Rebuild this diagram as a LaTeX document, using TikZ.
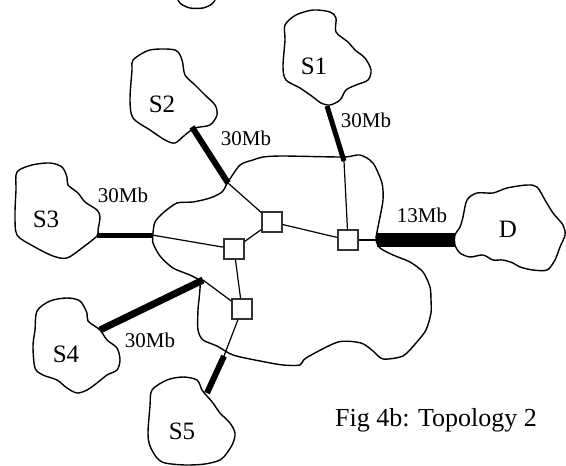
\documentclass[tikz,border=0pt]{standalone}
\usepackage{fontspec}
\setmainfont{Liberation Serif}
\begin{document}
\begin{tikzpicture}[x=1pt,y=-1pt,
  cloud/.style={draw, line width=1.4pt, line join=round},
  router/.style={draw=black!80, fill=white, rectangle, minimum size=20pt, inner sep=0pt, line width=1.4pt},
  thin/.style={line width=1.2pt},
  trunk/.style={line width=#1, line cap=butt},
  site/.style={font=\fontsize{25}{30}\selectfont},
  rate/.style={font=\fontsize{21}{25}\selectfont},
  caption/.style={font=\fontsize{26}{31}\selectfont}]
\useasboundingbox (0,0) rectangle (566,466);

% partial cloud at the top edge
\draw[cloud] plot[smooth, tension=0.5] coordinates {(178,0) (181,4) (190,8) (203,8) (212,4) (215,0)};

% core network
\draw[cloud] plot[smooth cycle, tension=0.45] coordinates {
  (228,182) (240,165) (253,160) (263,157) (283,156) (343,157) (360,155) (373,163)
  (382,183) (383,200) (380,217) (377,232) (376,240) (380,248) (393,255) (410,262)
  (423,272) (430,287) (431,300) (431,313) (426,330) (416,343) (403,356) (383,359)
  (373,351) (361,343) (338,342) (306,358) (300,365) (283,365) (260,361) (233,355)
  (217,346) (203,340) (198,330) (198,310) (200,283) (192,276) (173,268) (160,256)
  (153,243) (153,233) (155,222) (163,213) (177,203) (193,202) (210,198) (222,192)};

% site clouds
\draw[cloud] plot[smooth cycle, tension=0.5] coordinates {
  (285,25) (296,15) (313,10) (330,12) (336,18) (336,32) (348,42) (355,50) (365,58)
  (371,70) (368,80) (356,85) (346,90) (340,100) (330,105) (321,103) (313,97)
  (300,88) (286,80) (283,67) (285,40)};
\draw[cloud] plot[smooth cycle, tension=0.5] coordinates {
  (133,60) (150,50) (175,50) (182,60) (185,75) (195,85) (205,95) (215,105)
  (217,115) (210,125) (195,128) (185,135) (175,143) (165,140) (150,130)
  (133,118) (130,100) (132,70)};
\draw[cloud] plot[smooth cycle, tension=0.5] coordinates {
  (17,172) (32,165) (50,163) (62,167) (67,177) (68,185) (78,193) (85,202)
  (97,210) (100,217) (98,230) (97,236) (82,248) (67,258) (53,256) (33,246)
  (17,235) (15,215) (16,190)};
\draw[cloud] plot[smooth cycle, tension=0.5] coordinates {
  (37,311) (50,301) (67,298) (80,301) (87,313) (88,321) (100,330) (107,340)
  (117,348) (120,360) (117,370) (107,375) (97,383) (87,390) (77,393) (67,388)
  (57,380) (43,375) (35,368) (33,346) (35,330)};
\draw[cloud] plot[smooth cycle, tension=0.5] coordinates {
  (152,390) (167,380) (183,377) (197,380) (202,390) (207,396) (213,403) (220,413)
  (230,423) (235,433) (233,443) (227,453) (220,460) (205,464) (185,465) (165,463)
  (157,458) (150,446) (148,433) (150,406)};
\draw[cloud] plot[smooth cycle, tension=0.5] coordinates {
  (455,235) (460,227) (463,217) (467,200) (477,193) (493,193) (507,188) (527,185)
  (537,187) (545,200) (553,213) (563,225) (565,235) (560,247) (555,260) (547,270)
  (533,270) (520,267) (513,263) (503,260) (493,260) (483,255) (470,257) (460,253)
  (455,245)};

% access link end points
\coordinate (eS1) at (327,106);  \coordinate (jS1) at (344,161);
\coordinate (eS2) at (192,127);  \coordinate (jS2) at (228,183);
\coordinate (eS3) at (97,235);   \coordinate (jS3) at (152,235);
\coordinate (eS4) at (100,330);  \coordinate (jS4) at (203,280);
\coordinate (eS5) at (207,393);  \coordinate (jS5) at (224,356);
\coordinate (eD)  at (455,240);  \coordinate (jD)  at (377,240);

% routers
\node[router] (rA) at (272,222) {};
\node[router] (rB) at (234,249) {};
\node[router] (rC) at (242,309) {};
\node[router] (rD) at (348,240) {};

% internal links
\draw[thin] (jS2) -- (rA);
\draw[thin] (rA) -- (rB);
\draw[thin] (rA) -- (rD);
\draw[thin] (jS3) -- (rB);
\draw[thin] (rB) -- (rC);
\draw[thin] (jS4) -- (rC);
\draw[thin] (rC) -- (jS5);
\draw[thin] (rD) -- (jS1);
\draw[thin] (rD) -- (jD);

% access links
\draw[trunk=5pt] (eS1) -- (jS1);
\draw[trunk=6pt] (eS2) -- (jS2);
\draw[trunk=5pt] (eS3) -- (jS3);
\draw[trunk=7pt] (eS4) -- (jS4);
\draw[trunk=6pt] (eS5) -- (jS5);
\draw[trunk=14pt] (jD) -- (eD);

% labels
\node[site] (lS1) at (314,66) {S1};
\node[site] (lS2) at (162,104) {S2};
\node[site] (lS3) at (46,219) {S3};
\node[site] (lS4) at (66,354) {S4};
\node[site] (lS5) at (182,431) {S5};
\node[site] (lD)  at (508,229) {D};
\node[rate] (r1) at (366,120) {30Mb};
\node[rate] (r2) at (246,138) {30Mb};
\node[rate] (r3) at (123,195) {30Mb};
\node[rate] (r4) at (150,340) {30Mb};
\node[rate] (r5) at (422,215) {13Mb};
\node[caption] (cap) at (436,420) {Fig 4b: Topology 2};
\end{tikzpicture}
\end{document}
